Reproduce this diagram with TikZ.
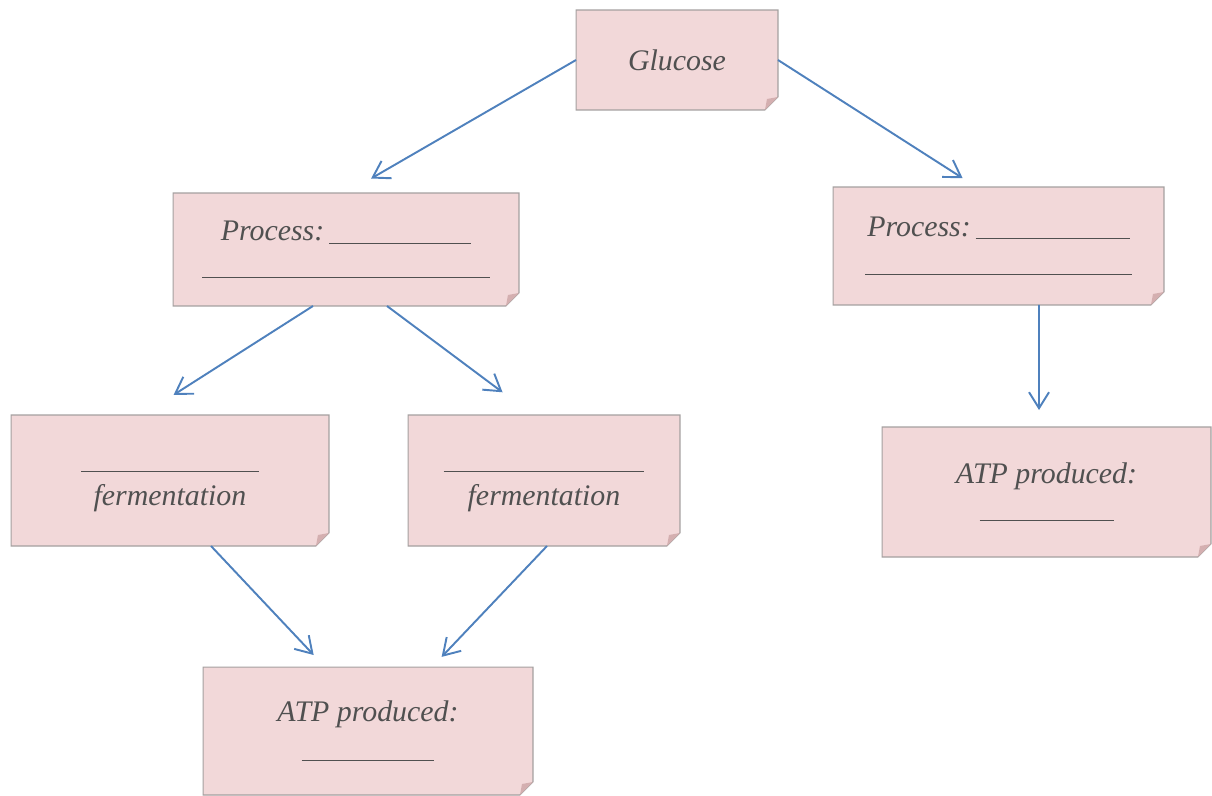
\documentclass[tikz,border=0pt]{standalone}
\usepackage{fontspec}
\setmainfont{Liberation Serif}
\usetikzlibrary{arrows.meta,calc,backgrounds}
\tikzset{>={Straight Barb[length=3.2mm,width=4mm]}}
\definecolor{notepink}{HTML}{F2D8D9}
\definecolor{notefold}{HTML}{D4AFB0}
\definecolor{noteedge}{HTML}{A5A0A0}
\definecolor{flowblue}{HTML}{4F81BD}
\definecolor{notetext}{HTML}{505050}
\newcommand{\blank}[1]{\rule[-1.6pt]{#1}{0.55pt}}

\begin{document}
\begin{tikzpicture}[x=0.02cm,y=-0.02cm,
  note/.style = {rectangle, inner sep=0pt, outer sep=0pt, align=center, text=notetext,
                 font=\itshape\fontsize{17}{19.5}\selectfont},
  flow/.style = {->, draw=flowblue, line width=1.1pt}]
\useasboundingbox (0,0) rectangle (1212,795);
    \node[note, minimum width=4.04cm, minimum height=2cm] (glu) at (677,60) {Glucose};
    \node[note, minimum width=6.92cm, minimum height=2.26cm] (procL) at (346,249.5) {Process:\hspace{0.1cm}\blank{2.84cm}\\ \blank{5.76cm}};
    \node[note, minimum width=6.62cm, minimum height=2.36cm] (procR) at (998.5,246) {Process:\hspace{0.1cm}\blank{3.08cm}\\[1pt] \blank{5.34cm}};
    \node[note, minimum width=6.36cm, minimum height=2.62cm] (fermA) at (170,480.5) {\rule{0pt}{11pt}\blank{3.56cm}\\[1pt] fermentation};
    \node[note, minimum width=5.44cm, minimum height=2.62cm] (fermB) at (544,480.5) {\rule{0pt}{11pt}\blank{4.02cm}\\[1pt] fermentation};
    \node[note, minimum width=6.58cm, minimum height=2.6cm] (atpR) at (1046.5,492) {ATP produced:\\ \blank{2.68cm}};
    \node[note, minimum width=6.6cm, minimum height=2.56cm] (atpB) at (368,731) {ATP produced:\\[1pt] \blank{2.66cm}};
\begin{scope}[on background layer]
    \foreach \n in {glu,procL,procR,fermA,fermB,atpR,atpB}{
        \draw[fill=notepink, draw=noteedge, line width=0.6pt] (\n.north west) -- (\n.north east)
            -- ($(\n.south east)+(0,-13)$) -- ($(\n.south east)+(-13,0)$) -- (\n.south west) -- cycle;
        \fill[notefold] ($(\n.south east)+(0,-13)$) -- ($(\n.south east)+(-13,0)$)
            -- ($(\n.south east)+(-11,-11)$) -- cycle;
    }
\end{scope}
    \draw[flow, shorten >=0.58cm] (glu.west) -- (procL.north);
    \draw[flow, shorten >=0.33cm] (glu.east) -- ($(procR.north)+(-22,0)$);
    \draw[flow, shorten >=0.75cm] ($(procL.south)+(-33,0)$) -- ($(fermA.north)+(-28,0)$);
    \draw[flow, shorten >=0.76cm] ($(procL.south)+(41,0)$) -- ($(fermB.north)+(-11,0)$);
    \draw[flow, shorten >=0.34cm] ($(procR.south)+(40.5,0)$) -- ($(atpR.north)+(-7.5,0)$);
    \draw[flow, shorten >=0.33cm] ($(fermA.south)+(41,0)$) -- ($(atpB.north)+(-43,0)$);
    \draw[flow, shorten >=0.28cm] ($(fermB.south)+(3,0)$) -- ($(atpB.north)+(64,0)$);
\end{tikzpicture}
\end{document}
